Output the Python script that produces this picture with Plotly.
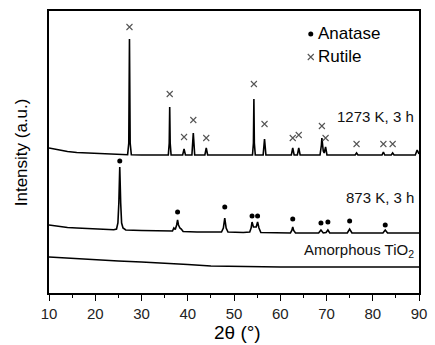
import plotly.graph_objects as go

# ---- data (y in arbitrary offset intensity units) ----
x_1273 = [10, 12, 14, 16, 18, 20, 23, 26, 27.0, 27.25, 27.4, 27.55, 27.8, 30, 35.8, 36.0, 36.1, 36.2, 36.4,
          38.9, 39.2, 39.5, 40.9, 41.2, 41.5, 43.7, 44.0, 44.3, 50, 54.0, 54.2, 54.3, 54.4, 54.6,
          56.3, 56.6, 56.9, 62.4, 62.7, 63.0, 63.7, 64.0, 64.3, 68.6, 68.9, 69.0, 69.3, 69.5, 69.8, 70.1,
          76.2, 76.5, 76.8, 82.0, 82.3, 82.6, 84.0, 84.3, 84.6, 89.2, 89.6, 90]
y_1273 = [145, 143, 141.5, 140.5, 140, 139.5, 139, 138.5, 138.3, 150, 254, 150, 138.2, 138, 138, 150, 186, 150, 138,
          138, 144, 138, 138, 160, 138, 138, 145, 138, 138, 138, 150, 194, 150, 138,
          138, 154, 138, 138, 145, 138, 138, 145, 138, 138, 148, 155, 142, 140, 146, 138,
          138, 140, 138, 138, 141, 138, 138, 140, 138, 138, 143, 139]

x_873 = [10, 12, 14, 16, 18, 20, 22, 24, 24.6, 24.9, 25.1, 25.3, 25.5, 25.7, 26.0, 26.6, 30, 35, 36.7, 37.0, 37.3,
         37.6, 37.8, 38.0, 38.3, 38.6, 39.0, 42, 47.3, 47.7, 48.0, 48.3, 48.7, 52, 53.4, 53.7, 53.9, 54.2,
         54.5, 54.8, 55.1, 55.4, 55.8, 60, 62.2, 62.5, 62.7, 62.9, 63.3, 68.3, 68.8, 69.3, 69.9, 70.3, 70.7,
         74.5, 75.0, 75.5, 82.2, 82.7, 83.2, 90]
y_873 = [68, 66.5, 65.5, 65, 64.5, 64, 63.5, 63.3, 64, 70, 90, 126, 90, 70, 65, 63, 62.5, 62, 62, 65, 63.5,
         68, 73, 68, 65, 64, 61.5, 61, 61, 65, 75, 65, 61, 60.5, 61, 65, 71, 66,
         66, 66, 71, 65, 60.5, 60, 60, 62.5, 66, 62.5, 60, 60, 63, 60, 60.5, 63, 60,
         60, 64, 60, 60, 63, 60, 60]

x_amor = [10, 15, 20, 25, 30, 35, 40, 45, 50, 60, 70, 80, 90]
y_amor = [36, 34.5, 33, 32, 31, 30, 28.5, 27, 26.5, 26, 26, 26, 26]

rutile_x = [27.4, 36.1, 39.2, 41.2, 44.0, 54.3, 56.6, 62.7, 64.0, 69.0, 69.8, 76.5, 82.3, 84.3]
rutile_y = [266, 199, 156, 173, 155, 209, 169, 155, 158, 167, 155, 149, 149, 149]

anatase_x = [25.3, 37.8, 48.0, 53.9, 55.1, 62.7, 68.8, 70.3, 75.0, 82.7]
anatase_y = [132, 81, 86, 77, 77, 74, 70, 71, 72, 68]

curve_labels = ["1273 K, 3 h", "873 K, 3 h", "Amorphous TiO<sub>2</sub>"]
label_y = [177, 96, 43]

xticks = [10, 20, 30, 40, 50, 60, 70, 80, 90]

FONT = "Liberation Sans, Arial, sans-serif"

fig = go.Figure()
for xs, ys in [(x_1273, y_1273), (x_873, y_873), (x_amor, y_amor)]:
    fig.add_trace(go.Scatter(x=xs, y=ys, mode="lines",
                             line=dict(color="black", width=1.6), showlegend=False))

fig.add_trace(go.Scatter(x=rutile_x, y=rutile_y, mode="markers",
                         marker=dict(symbol="x-thin", size=6, line=dict(color="#555555", width=1.1)),
                         showlegend=False))
fig.add_trace(go.Scatter(x=anatase_x, y=anatase_y, mode="markers",
                         marker=dict(symbol="circle", size=5, color="black"),
                         showlegend=False))

# legend drawn manually
fig.add_trace(go.Scatter(x=[66.6], y=[259], mode="markers",
                         marker=dict(symbol="circle", size=5, color="black"), showlegend=False))
fig.add_trace(go.Scatter(x=[66.6], y=[236], mode="markers",
                         marker=dict(symbol="x-thin", size=6, line=dict(color="#555555", width=1.1)),
                         showlegend=False))
fig.add_annotation(x=67.8, y=260, text="Anatase", showarrow=False, xanchor="left",
                   font=dict(size=17, family=FONT, color="black"))
fig.add_annotation(x=67.8, y=237, text="Rutile", showarrow=False, xanchor="left",
                   font=dict(size=17, family=FONT, color="black"))

for t, yy in zip(curve_labels, label_y):
    fig.add_annotation(x=89.4, y=yy, text=t, showarrow=False, xanchor="right",
                       font=dict(size=15, family=FONT, color="#111111"))

fig.add_annotation(xref="paper", yref="paper", x=0.51, y=-0.095, yanchor="top",
                   text="2θ (°)", showarrow=False, font=dict(size=19, family=FONT, color="black"))
fig.add_annotation(xref="paper", yref="paper", x=-0.075, y=0.5, xanchor="center",
                   text="Intensity (a.u.)", textangle=-90, showarrow=False,
                   font=dict(size=17, family=FONT, color="black"))

fig.update_layout(
    width=435, height=345,
    margin=dict(l=49, r=8, t=11, b=52),
    plot_bgcolor="white", paper_bgcolor="white",
    font=dict(family=FONT, color="black"),
)
fig.update_xaxes(range=[10, 90], tickvals=xticks, ticktext=[str(v) for v in xticks],
                 ticks="outside", ticklen=6, tickwidth=1.3, tickcolor="black",
                 minor=dict(dtick=5, tick0=5, ticks="outside", ticklen=3, tickwidth=1.2, tickcolor="black"),
                 showline=True, linecolor="black", linewidth=1.6, mirror=True,
                 showgrid=False, zeroline=False, tickfont=dict(size=15, family=FONT, color="#222222"))
fig.update_yaxes(range=[0, 282], showticklabels=False, ticks="",
                 showline=True, linecolor="black", linewidth=1.6, mirror=True,
                 showgrid=False, zeroline=False)

fig.write_html("out.html")
